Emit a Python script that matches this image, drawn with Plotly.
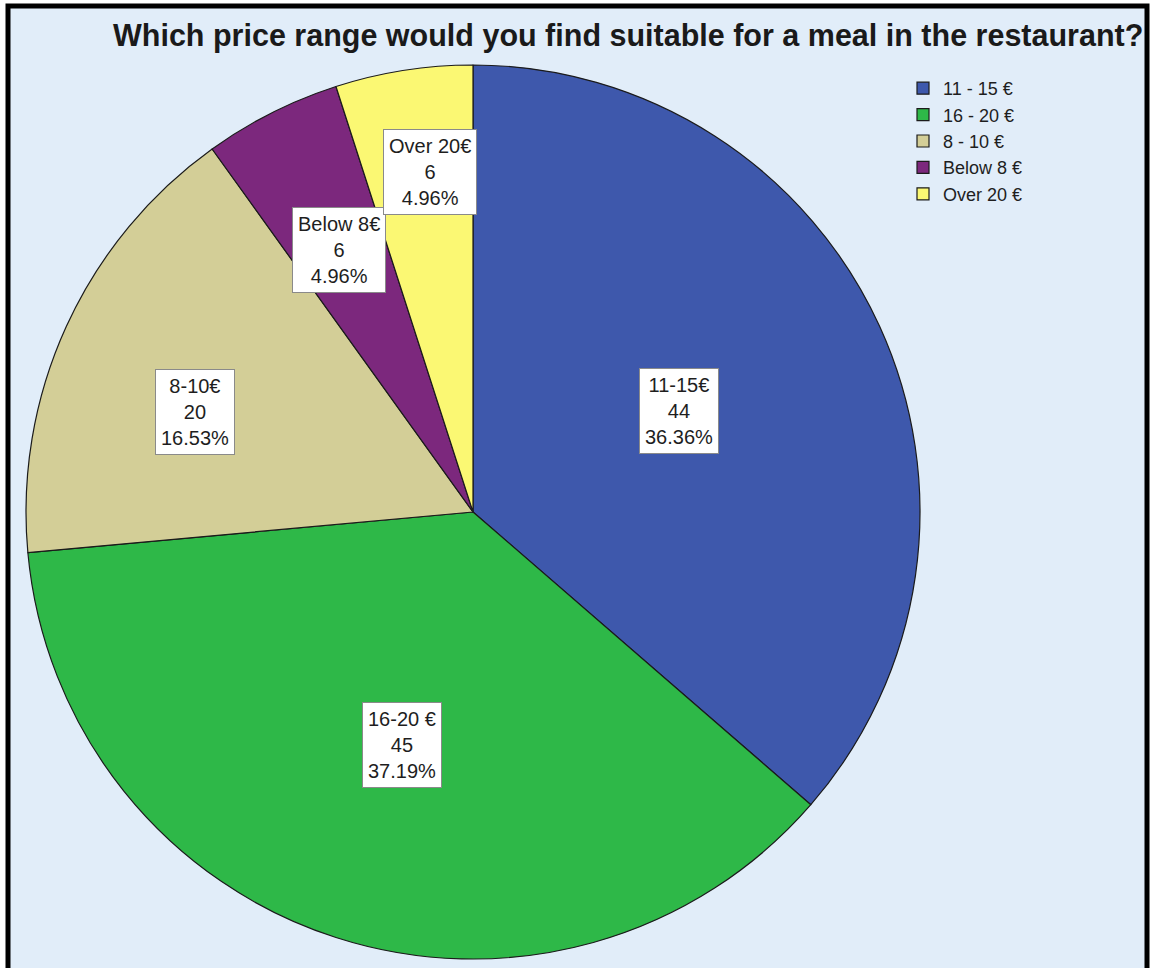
import math
import plotly.graph_objects as go

# Survey answers: suitable price range for a meal
legend_names = ["11 - 15 €", "16 - 20 €", "8 - 10 €", "Below 8 €", "Over 20 €"]
slice_names = ["11-15€", "16-20 €", "8-10€", "Below 8€", "Over 20€"]
counts = [44, 45, 20, 6, 6]
colors = ["#3E58AC", "#2EB848", "#D3CE97", "#7C287D", "#FBF873"]

# Placement of each value box: fraction of the pie radius and
# angular nudge (degrees) away from the slice's mid-angle
box_radius = [0.513, 0.545, 0.661, 0.658, 0.767]
box_nudge = [-1.5, -1.0, -4.7, -0.3, 1.7]

W, H = 1150, 968
CX, CY, R = 473, 512, 447  # pie centre and radius in pixels
FONT = "Arial, Liberation Sans, sans-serif"

fig = go.Figure()
fig.add_trace(go.Pie(
    labels=legend_names,
    values=counts,
    sort=False,
    direction="clockwise",
    rotation=0,
    textinfo="none",
    hoverinfo="label+value+percent",
    marker=dict(colors=colors, line=dict(color="#1b1b1b", width=1.2)),
    domain=dict(x=[(CX - R) / W, (CX + R) / W],
                y=[1 - (CY + R) / H, 1 - (CY - R) / H]),
))

total = sum(counts)
start = 0.0
annotations = []
for name, n, frac, nudge in zip(slice_names, counts, box_radius, box_nudge):
    share = n / total
    mid = (start + share / 2) * 2 * math.pi + math.radians(nudge)
    start += share
    px = CX + frac * R * math.sin(mid)
    py = CY - frac * R * math.cos(mid)
    annotations.append(dict(
        x=px / W, y=1 - py / H, xref="paper", yref="paper",
        xanchor="center", yanchor="middle",
        text=f"{name}<br>{n}<br>{share * 100:.2f}%",
        showarrow=False, align="center",
        font=dict(family=FONT, size=20, color="#1e1e1e"),
        bgcolor="#ffffff", bordercolor="#8a8a8a", borderwidth=1, borderpad=5,
    ))

# Chart title
annotations.append(dict(
    x=628 / W, y=1 - 35 / H, xref="paper", yref="paper",
    text="<b>Which price range would you find suitable for a meal in the restaurant?</b>",
    showarrow=False, xanchor="center", yanchor="middle",
    font=dict(family=FONT, size=30.5, color="#1a1a1a"),
))

fig.update_layout(
    width=W, height=H,
    margin=dict(l=0, r=0, t=0, b=0),
    paper_bgcolor="#ffffff",
    plot_bgcolor="#E1EDF9",
    annotations=annotations,
    shapes=[dict(
        type="rect", xref="paper", yref="paper", layer="below",
        x0=8 / W, x1=1147 / W, y0=-0.05, y1=1 - 6 / H,
        fillcolor="#E1EDF9", line=dict(color="#000000", width=5),
    )],
    showlegend=True,
    legend=dict(
        x=903 / W, y=1 - 70 / H, xanchor="left", yanchor="top",
        bgcolor="rgba(0,0,0,0)",
        font=dict(family=FONT, size=18, color="#1e1e1e"),
        traceorder="normal",
        tracegroupgap=0,
    ),
)

fig.write_html("out.html")
